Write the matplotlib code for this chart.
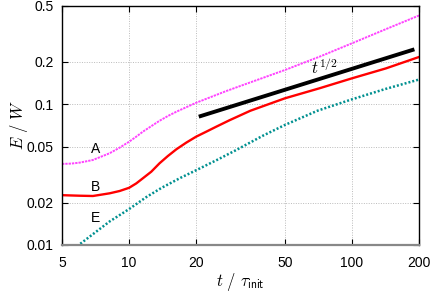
import matplotlib
matplotlib.use("Agg")
import matplotlib.pyplot as plt
from matplotlib.ticker import FixedLocator, NullLocator, FixedFormatter

# curves (t / tau_init, E / W)
t_A = [5.0, 5.5, 6.0, 6.88, 8.18, 9.07, 10, 10.77, 11.53, 13.7, 15, 16.3, 20, 27.3, 35,
       50, 71.5, 100, 140, 200]
E_A = [0.0377, 0.0379, 0.0385, 0.0402, 0.0449, 0.0492, 0.0542, 0.0589, 0.0639, 0.0764,
       0.0829, 0.0886, 0.1026, 0.1243, 0.1432, 0.1753, 0.218, 0.2714, 0.339, 0.428]

t_B = [5.0, 6.0, 6.88, 8.18, 9.07, 10, 10.77, 11.53, 12.58, 13.7, 14.93, 16.3, 18.05, 20,
       22.2, 24.6, 28.2, 35, 50, 71.5, 100, 142, 200]
E_B = [0.0226, 0.0224, 0.0223, 0.0233, 0.0242, 0.0255, 0.0274, 0.0298, 0.0332, 0.0381,
       0.0429, 0.0479, 0.0534, 0.0589, 0.0639, 0.0693, 0.077, 0.090, 0.1103, 0.130,
       0.153, 0.180, 0.217]

t_E = [6.04, 8.18, 10, 12, 14, 17, 20, 25, 30, 40, 50, 70, 100, 140, 200]
E_E = [0.0102, 0.0147, 0.0180, 0.0220, 0.0255, 0.0300, 0.0340, 0.0405, 0.047, 0.060,
       0.0713, 0.090, 0.1085, 0.128, 0.150]

t_slope = [20.55, 190.7]
E_slope = [0.0817, 0.246]

xticks = [5, 10, 20, 50, 100, 200]
yticks = [0.01, 0.02, 0.05, 0.1, 0.2, 0.5]

plt.rcParams["font.family"] = ["Liberation Sans", "DejaVu Sans"]
plt.rcParams["mathtext.fontset"] = "cm"

fig = plt.figure(figsize=(4.36, 2.94), dpi=100)
ax = fig.add_axes([0.1422, 0.1667, 0.8188, 0.8129])

ax.plot(t_A, E_A, color="#ff44ff", lw=1.4, ls=(0, (1.2, 0.5)))
ax.plot(t_B, E_B, color="#ff0000", lw=1.7)
ax.plot(t_E, E_E, color="#009090", lw=1.8, ls=(0, (0.8, 0.8)))
ax.plot(t_slope, E_slope, color="black", lw=2.8, solid_capstyle="butt")

ax.set_xscale("log")
ax.set_yscale("log")
ax.set_xlim(5, 200)
ax.set_ylim(0.01, 0.5)
ax.xaxis.set_major_locator(FixedLocator(xticks))
ax.xaxis.set_major_formatter(FixedFormatter([str(v) for v in xticks]))
ax.xaxis.set_minor_locator(NullLocator())
ax.yaxis.set_major_locator(FixedLocator(yticks))
ax.yaxis.set_major_formatter(FixedFormatter([str(v) for v in yticks]))
ax.yaxis.set_minor_locator(NullLocator())
ax.tick_params(direction="in", top=True, right=True, length=4, width=0.8,
               labelsize=10, pad=6)
ax.tick_params(axis="x", pad=8)
ax.grid(True, color="#bbbbbb", ls=(0, (1, 1.5)), lw=0.7)

for side in ["top", "right", "left"]:
    ax.spines[side].set_color("black")
    ax.spines[side].set_linewidth(1.0)
ax.spines["bottom"].set_color("#888888")
ax.spines["bottom"].set_linewidth(1.6)

ax.text(7.07, 0.0481, "A", fontsize=10, ha="center", va="center")
ax.text(7.07, 0.0258, "B", fontsize=10, ha="center", va="center")
ax.text(7.07, 0.01556, "E", fontsize=10, ha="center", va="center")
ax.text(75, 0.182, r"$t^{\mathsf{1/2}}$", fontsize=12, ha="center", va="center")

ax.set_xlabel(r"$t\ /\ \tau_{\mathsf{init}}$", fontsize=12)
ax.set_ylabel(r"$E\ /\ W$", fontsize=12)
ax.xaxis.set_label_coords(0.5, -0.11)
ax.yaxis.set_label_coords(-0.09, 0.5)

fig.savefig("out.png", dpi=100)
